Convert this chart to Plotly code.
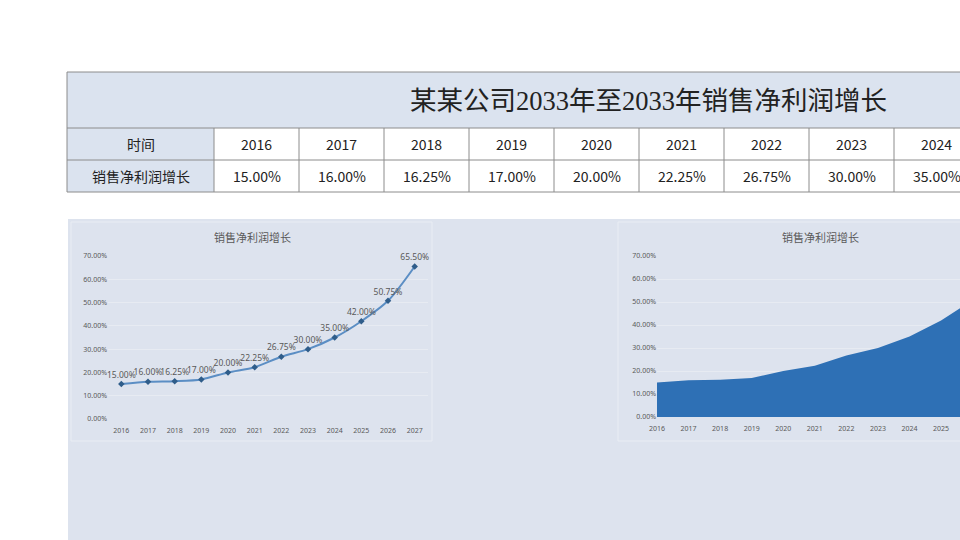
import plotly.graph_objects as go

# ---- data ----
years = ["2016", "2017", "2018", "2019", "2020", "2021", "2022", "2023", "2024", "2025", "2026", "2027"]
growth = [15.00, 16.00, 16.25, 17.00, 20.00, 22.25, 26.75, 30.00, 35.00, 42.00, 50.75, 65.50]
table_title = "某某公司2033年至2033年销售净利润增长"
row_head_time = "时间"
row_head_value = "销售净利润增长"
chart_title = "销售净利润增长"
y_ticks = [0, 10, 20, 30, 40, 50, 60, 70]

W, H = 960, 540
def px(x):
    return x / W
def py(y):
    return 1 - y / H

PANEL = "#dde3ee"
TITLE_BG = "#dbe3ef"
BORDER = "#8c8c8c"
GRID = "#e7ebf2"
TXT = "#595959"

fig = go.Figure()

# chart 1: smoothed line with markers & labels
fig.add_trace(go.Scatter(
    x=years, y=growth, mode="lines+markers+text",
    line=dict(color="#5b8ec4", width=2, shape="spline", smoothing=0.8),
    marker=dict(symbol="diamond", size=5, color="#2f5d8a"),
    text=[f"{v:.2f}%" for v in growth], textposition="top center",
    textfont=dict(size=8.5, color=TXT, family="Noto Sans"),
    cliponaxis=False, xaxis="x", yaxis="y", showlegend=False, hoverinfo="skip"))

# chart 2: area
fig.add_trace(go.Scatter(
    x=years, y=growth, mode="lines", fill="tozeroy",
    fillcolor="#2e70b5", line=dict(color="#2e70b5", width=0),
    xaxis="x2", yaxis="y2", showlegend=False, hoverinfo="skip"))

shapes = []
ann = []

def label(x, y, text, size, color="#222222", family="Noto Sans CJK SC"):
    ann.append(dict(x=px(x), y=py(y), xref="paper", yref="paper", text=text, showarrow=False,
                    xanchor="center", yanchor="middle",
                    font=dict(size=size, color=color, family=family)))

# ---- table ----
col_w = 85
top, r1, r2, bot = 72, 128, 160, 192
shapes.append(dict(type="rect", xref="paper", yref="paper", x0=px(67), x1=px(1000), y0=py(r1), y1=py(top),
                   fillcolor=TITLE_BG, line=dict(width=0), layer="below"))
shapes.append(dict(type="rect", xref="paper", yref="paper", x0=px(67), x1=px(214), y0=py(bot), y1=py(r1),
                   fillcolor=TITLE_BG, line=dict(width=0), layer="below"))
for yy in (top, r1, r2, bot):
    shapes.append(dict(type="line", xref="paper", yref="paper", x0=px(67), x1=px(1000), y0=py(yy), y1=py(yy),
                       line=dict(color=BORDER, width=1)))
shapes.append(dict(type="line", xref="paper", yref="paper", x0=px(67), x1=px(67), y0=py(top), y1=py(bot),
                   line=dict(color=BORDER, width=1)))
label(648, 101, table_title, 26.5, family="Liberation Serif, Noto Sans CJK SC")
label(140.5, 144, row_head_time, 14)
label(140.5, 176, row_head_value, 14)
for i, (yr, v) in enumerate(zip(years, growth)):
    x0 = 214 + i * col_w
    if x0 >= W:
        break
    shapes.append(dict(type="line", xref="paper", yref="paper", x0=px(x0), x1=px(x0), y0=py(r1), y1=py(bot),
                       line=dict(color=BORDER, width=1)))
    cx = x0 + col_w / 2
    label(cx, 144, yr, 14)
    label(cx, 176, f"{v:.2f}%", 14)

# ---- panel & chart boxes ----
shapes.append(dict(type="rect", xref="paper", yref="paper", x0=px(68), x1=px(1000), y0=py(560), y1=py(219),
                   fillcolor=PANEL, line=dict(width=0), layer="below"))
shapes.append(dict(type="rect", xref="paper", yref="paper", x0=px(71), x1=px(432), y0=py(441), y1=py(222),
                   fillcolor=PANEL, line=dict(color="#e9edf4", width=1), layer="below"))
shapes.append(dict(type="rect", xref="paper", yref="paper", x0=px(618), x1=px(1000), y0=py(441), y1=py(222),
                   fillcolor=PANEL, line=dict(color="#e9edf4", width=1), layer="below"))

label(252, 237, chart_title, 11, color=TXT)
label(820, 237, chart_title, 11, color=TXT)

axis_font = dict(size=7, color=TXT, family="Noto Sans")
yaxis_common = dict(range=[0, 70], tickvals=y_ticks, ticktext=[f"{t:.2f}%" for t in y_ticks],
                    showgrid=True, gridcolor=GRID, gridwidth=1, zeroline=False, showline=False,
                    tickfont=axis_font, ticks="", fixedrange=True, automargin=False)
xaxis_common = dict(type="category", showgrid=False, zeroline=False, showline=False,
                    tickfont=axis_font, ticks="", ticklabelstandoff=6, fixedrange=True, automargin=False)

fig.update_layout(
    template="none",
    width=W, height=H, margin=dict(l=0, r=0, t=0, b=0, pad=0), autosize=False,
    paper_bgcolor="white", plot_bgcolor="rgba(0,0,0,0)",
    xaxis=dict(domain=[px(108), px(428)], range=[-0.5, 11.5], anchor="y", **xaxis_common),
    yaxis=dict(domain=[py(419), py(256)], anchor="x", **yaxis_common),
    xaxis2=dict(domain=[px(657), 1], range=[0, 9.6], anchor="y2", **xaxis_common),
    yaxis2=dict(domain=[py(417), py(256)], anchor="x2", **yaxis_common),
    shapes=shapes, annotations=ann,
)

fig.write_html("out.html",
               post_script="document.body.style.margin='0';document.body.style.overflow='hidden';")
